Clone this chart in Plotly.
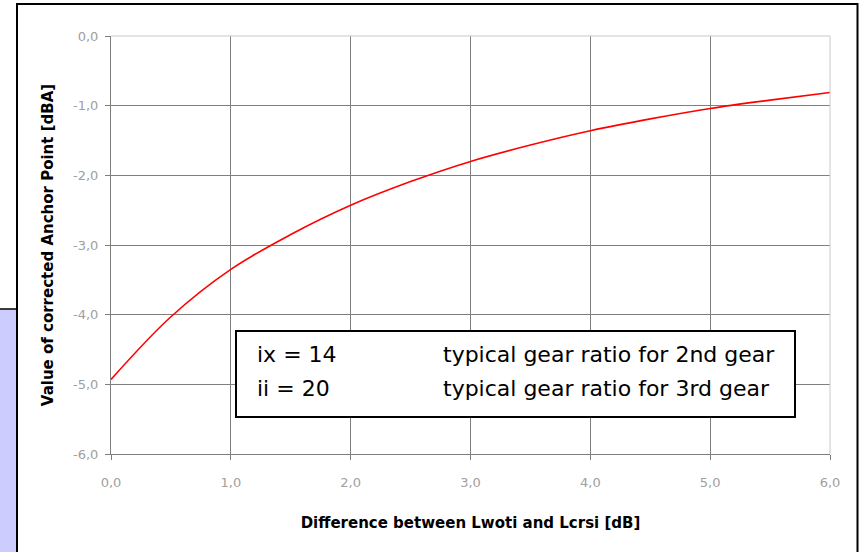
import plotly.graph_objects as go

# ---- data ----
x_diff = [0.0, 0.5, 1.0, 1.5, 2.0, 2.5, 3.0, 3.5, 4.0, 4.5, 5.0, 5.5, 6.0]
anchor_corr = [-4.93, -4.03, -3.35, -2.85, -2.43, -2.09, -1.80, -1.565, -1.36, -1.19, -1.04, -0.92, -0.81]

x_tickvals = [0, 1, 2, 3, 4, 5, 6]
x_ticktext = ["0,0", "1,0", "2,0", "3,0", "4,0", "5,0", "6,0"]
y_tickvals = [0, -1, -2, -3, -4, -5, -6]
y_ticktext = ["0,0", "-1,0", "-2,0", "-3,0", "-4,0", "-5,0", "-6,0"]
x_grid = [1, 2, 3, 4, 5]
y_grid = [-1, -2, -3, -4, -5]

x_title = "Difference between Lwoti and Lcrsi [dB]"
y_title = "Value of corrected Anchor Point [dBA]"
note_params = ["ix = 14", "ii = 20"]
note_descr = ["typical gear ratio for 2nd gear", "typical gear ratio for 3rd gear"]

W, H = 859, 552
L, R, T, B = 111, 29, 36, 98
pw, ph = W - L - R, H - T - B

def px(xp):
    return (xp - L) / pw

def py(yp):
    return (H - B - yp) / ph

AX = "#7f7f7f"
FONT = "DejaVu Sans"

fig = go.Figure()
fig.add_trace(go.Scatter(x=[None], y=[None], xaxis="x", yaxis="y",
                         showlegend=False, hoverinfo="skip"))
fig.add_trace(go.Scatter(x=x_diff, y=anchor_corr, xaxis="x2", yaxis="y2",
                         mode="lines", line=dict(color="#ff0000", width=1.6, shape="spline", smoothing=1.0),
                         showlegend=False))

line_y = [354, 388]
annotations = []
for i in range(len(note_params)):
    annotations.append(dict(text=note_params[i], xref="paper", yref="paper", x=px(255), y=py(line_y[i]),
                            xanchor="left", yanchor="middle", align="left", showarrow=False,
                            font=dict(family=FONT, size=22, color="black")))
    annotations.append(dict(text=note_descr[i], xref="paper", yref="paper", x=px(441), y=py(line_y[i]),
                            xanchor="left", yanchor="middle", align="left", showarrow=False,
                            font=dict(family=FONT, size=22, color="black")))

fig.update_layout(
    width=W, height=H,
    margin=dict(l=L, r=R, t=T, b=B),
    paper_bgcolor="white", plot_bgcolor="white",
    font=dict(family=FONT, color="black"),
    xaxis=dict(range=[0, 6], tickvals=x_tickvals, ticktext=x_ticktext,
               showgrid=False, zeroline=False, showline=True, linecolor=AX, linewidth=1,
               ticks="outside", ticklen=5, tickcolor=AX, tickwidth=1,
               tickfont=dict(family=FONT, size=13, color="#a0a0a0"),
               ticklabelstandoff=11,
               title=dict(text="<b>" + x_title + "</b>", standoff=28,
                          font=dict(family=FONT, size=15, color="black")),
               automargin=False, fixedrange=True),
    yaxis=dict(range=[-6, 0], tickvals=y_tickvals, ticktext=y_ticktext,
               showgrid=False, zeroline=False, showline=True, linecolor=AX, linewidth=1,
               ticks="outside", ticklen=5, tickcolor=AX, tickwidth=1,
               tickfont=dict(family=FONT, size=13, color="#a0a0a0"),
               ticklabelstandoff=4,
               title=dict(text="<b>" + y_title + "</b>", standoff=15,
                          font=dict(family=FONT, size=15, color="black")),
               automargin=False, fixedrange=True),
    xaxis2=dict(range=[0, 6], overlaying="x", tickvals=x_grid, showticklabels=False,
                ticks="", showgrid=True, gridcolor=AX, gridwidth=1,
                zeroline=False, showline=False, fixedrange=True),
    yaxis2=dict(range=[-6, 0], overlaying="y", tickvals=y_grid, showticklabels=False,
                ticks="", showgrid=True, gridcolor=AX, gridwidth=1,
                zeroline=False, showline=False, fixedrange=True),
    shapes=[
        dict(type="line", xref="paper", yref="paper", x0=0, x1=1, y0=1, y1=1,
             line=dict(color="#c8c8c8", width=1)),
        dict(type="line", xref="paper", yref="paper", x0=1, x1=1, y0=0, y1=1,
             line=dict(color="#c8c8c8", width=1)),
        dict(type="rect", xref="paper", yref="paper", x0=px(-2), x1=px(17), y0=py(309), y1=py(560),
             fillcolor="#ccccff", line=dict(color="black", width=1.5), layer="below"),
        dict(type="rect", xref="paper", yref="paper", x0=px(17), x1=px(857.5), y0=py(560), y1=py(4),
             fillcolor="rgba(0,0,0,0)", line=dict(color="black", width=2)),
        dict(type="rect", xref="paper", yref="paper", x0=px(236), x1=px(795), y0=py(417), y1=py(331),
             fillcolor="white", line=dict(color="black", width=2), layer="above"),
    ],
    annotations=annotations,
)

fig.write_html("out.html")
